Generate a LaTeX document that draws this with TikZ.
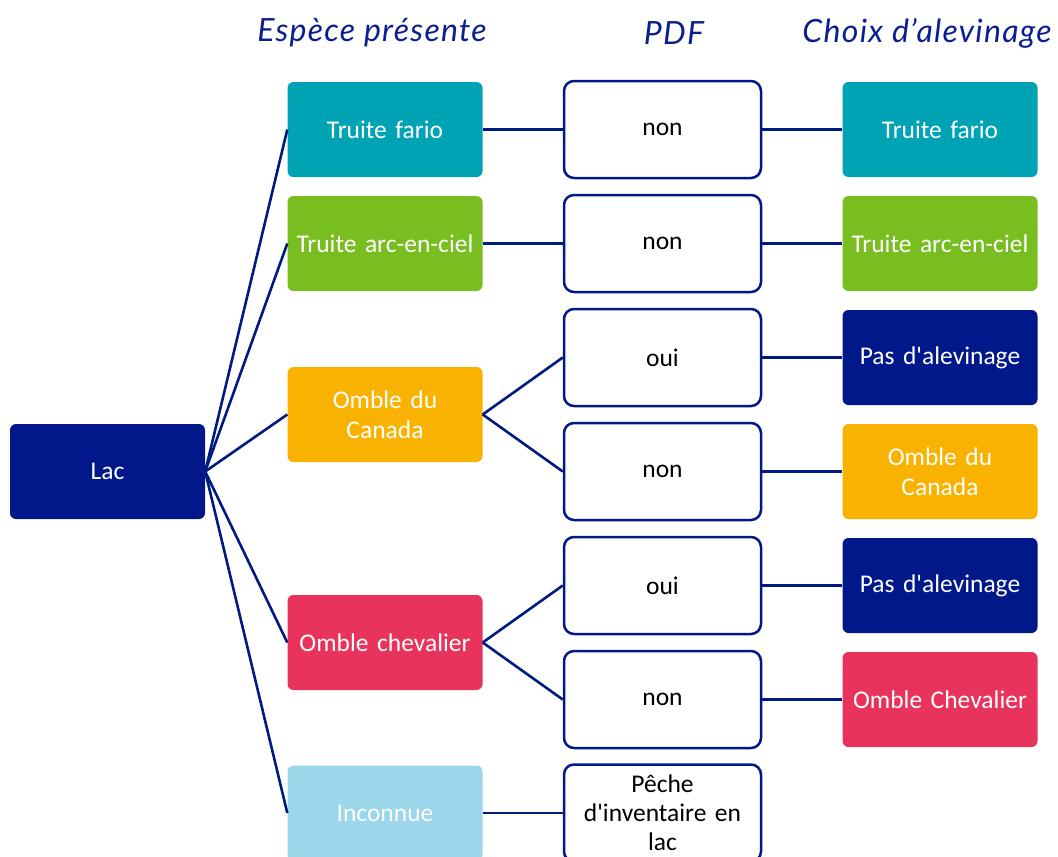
\documentclass[tikz,border=0pt]{standalone}
\usepackage{fontspec}
\newfontfamily\bodyfont{Carlito}
\newfontfamily\hdrfont[LetterSpace=4]{Lato}
\definecolor{navy}{HTML}{00188A}
\definecolor{lnblue}{HTML}{001A80}
\definecolor{teal}{HTML}{00A3B4}
\definecolor{lgreen}{HTML}{78BE20}
\definecolor{orng}{HTML}{F9B200}
\definecolor{pinkr}{HTML}{E8335D}
\definecolor{lblue}{HTML}{9CD6EA}
\definecolor{hdrblue}{HTML}{0A1F8F}
\begin{document}
\begin{tikzpicture}[x=1pt,y=-1pt,
  box/.style={rounded corners=6pt, minimum width=195pt, minimum height=95pt, align=center, font=\bodyfont\fontsize{25.5pt}{30pt}\selectfont, text=white, inner sep=1pt, text width=193pt},
  pdfbox/.style={draw=navy, line width=2.5pt, rounded corners=10pt, fill=white, minimum width=197pt, minimum height=97pt, align=center, font=\bodyfont\fontsize{25.5pt}{29pt}\selectfont, text=black, inner sep=1pt, text width=190pt},
  hdr/.style={font=\hdrfont\itshape\fontsize{32pt}{36pt}\selectfont, text=hdrblue},
  conn/.style={draw=lnblue, line width=2.6pt}]
\useasboundingbox (0,0) rectangle (1058,857);
% headers
\node[hdr] (h1) at (372,33) {Espèce présente};
\node[hdr] (h2) at (674,33) {PDF};
\node[hdr] (h3) at (927,33) {Choix d’alevinage};
% root
\node[box, fill=navy] (lac) at (107.5,471.5) {Lac};
% species
\node[box, fill=teal] (s1) at (385,129.5) {Truite fario};
\node[box, fill=lgreen] (s2) at (385,243.5) {Truite arc-en-ciel};
\node[box, fill=orng] (s3) at (385,414.5) {Omble du\\Canada};
\node[box, fill=pinkr] (s4) at (385,642.5) {Omble chevalier};
\node[box, fill=lblue] (s5) at (385,813) {Inconnue};
% pdf
\node[pdfbox] (p1) at (662.5,129.5) {non};
\node[pdfbox] (p2) at (662.5,243.5) {non};
\node[pdfbox] (p3) at (662.5,357.5) {oui};
\node[pdfbox] (p4) at (662.5,471.5) {non};
\node[pdfbox] (p5) at (662.5,585.5) {oui};
\node[pdfbox] (p6) at (662.5,699.5) {non};
\node[pdfbox] (p7) at (662.5,813) {Pêche\\d'inventaire en\\lac};
% choices
\node[box, fill=teal] (c1) at (940,129.5) {Truite fario};
\node[box, fill=lgreen] (c2) at (940,243.5) {Truite arc-en-ciel};
\node[box, fill=navy] (c3) at (940,357.5) {Pas d'alevinage};
\node[box, fill=orng] (c4) at (940,471.5) {Omble du\\Canada};
\node[box, fill=navy] (c5) at (940,585.5) {Pas d'alevinage};
\node[box, fill=pinkr] (c6) at (940,699.5) {Omble Chevalier};
% connectors
\foreach \s in {s1,s2,s3,s4,s5}{\draw[conn] (lac.east) -- (\s.west);}
\draw[conn] (s1.east) -- (p1.west);
\draw[conn] (s2.east) -- (p2.west);
\draw[conn] (s3.east) -- (p3.west);
\draw[conn] (s3.east) -- (p4.west);
\draw[conn] (s4.east) -- (p5.west);
\draw[conn] (s4.east) -- (p6.west);
\draw[conn] (s5.east) -- (p7.west);
\draw[conn] (p1.east) -- (c1.west);
\draw[conn] (p2.east) -- (c2.west);
\draw[conn] (p3.east) -- (c3.west);
\draw[conn] (p4.east) -- (c4.west);
\draw[conn] (p5.east) -- (c5.west);
\draw[conn] (p6.east) -- (c6.west);
\end{tikzpicture}
\end{document}
